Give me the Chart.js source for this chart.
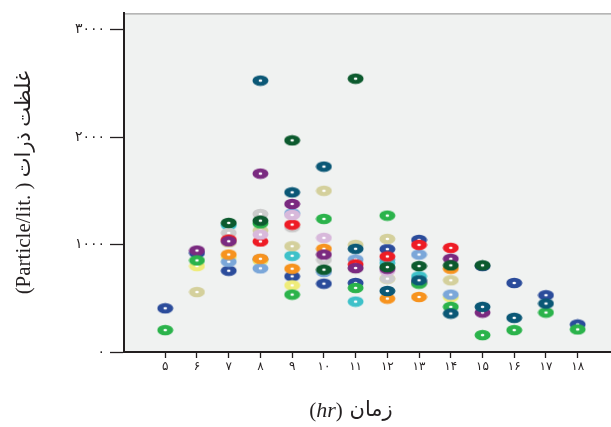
<!DOCTYPE html>
<html>
<head>
<meta charset="utf-8">
<script src="https://cdn.jsdelivr.net/npm/chart.js@4/dist/chart.umd.min.js"></script>
<style>
html,body{margin:0;padding:0;background:#fff;}
canvas{display:block;}
</style>
</head>
<body>
<canvas id="c" width="611" height="427" style="width:611px;height:427px"></canvas>
<script>
// ---- data ----
const hours = [5,6,7,8,9,10,11,12,13,14,15,16,17,18];
const xTickLabels = ['۵','۶','۷','۸','۹','۱۰','۱۱','۱۲','۱۳','۱۴','۱۵','۱۶','۱۷','۱۸'];
const yTickValues = [0,1000,2000,3000];
const yTickLabels = ['۰','۱۰۰۰','۲۰۰۰','۳۰۰۰'];
const yTitle = '(Particle/lit. ) غلظت ذرات';
const xTitleParts = ['(', 'hr', ')', ' زمان'];

const darkGreen = [null,null,1201,1222,1969,766,2543,790,799,806,806,null,null,null];
const darkTeal  = [null,null,null,2525,1485,1725,960,568,667,358,420,318,451,null];
const green     = [204,852,null,1197,534,1238,596,1269,636,420,157,204,367,210];
const purple    = [null,944,1030,1660,1377,907,781,775,650,867,367,null,null,null];
const lavender  = [null,null,null,1093,1275,1062,null,753,null,null,null,null,null,null];
const red       = [null,null,1046,1028,1185,null,815,889,997,969,null,null,null,null];
const gray      = [null,null,1108,1284,1160,858,775,682,null,null,null,null,null,null];
const khaki     = [null,558,1020,1130,984,1500,997,1052,null,667,null,null,null,null];
const cyan      = [null,null,1180,null,895,null,469,827,704,null,null,null,null,null];
const orange    = [null,null,907,867,775,960,null,497,512,775,null,null,null,null];
const lightBlue = [null,null,840,778,1290,744,861,858,907,534,null,null,null,null];
const yellow    = [null,799,880,850,620,null,null,682,null,510,null,null,null,null];
const darkBlue  = [407,920,756,860,704,636,642,957,1043,null,800,642,528,256];

const seriesList = [
  ['darkGreen', darkGreen, '#0c5a2e'],
  ['darkTeal', darkTeal, '#0b5876'],
  ['green', green, '#2bb34b'],
  ['purple', purple, '#7a2a80'],
  ['lavender', lavender, '#d8b9db'],
  ['red', red, '#ee1c25'],
  ['gray', gray, '#cccccc'],
  ['khaki', khaki, '#d4d09c'],
  ['cyan', cyan, '#3ec1c9'],
  ['orange', orange, '#f7931e'],
  ['lightBlue', lightBlue, '#7ba7d9'],
  ['yellow', yellow, '#efec7a'],
  ['darkBlue', darkBlue, '#2b4c9b']
];

// ---- marker images (donut ellipses) ----
function donut(color){
  const c = document.createElement('canvas');
  c.width = 17; c.height = 12;
  const g = c.getContext('2d');
  g.fillStyle = color;
  g.beginPath(); g.ellipse(8.5, 6, 8, 5.3, 0, 0, Math.PI*2); g.fill();
  g.fillStyle = '#ffffff';
  g.beginPath(); g.ellipse(8.5, 6, 1.8, 1.3, 0, 0, Math.PI*2); g.fill();
  return c;
}

const datasets = seriesList.map(([name, vals, color]) => ({
  label: name,
  data: hours.map((h, i) => ({x: h, y: vals[i]})).filter(p => p.y !== null),
  pointStyle: donut(color),
  backgroundColor: color,
  borderColor: color,
  showLine: false
}));

const bgPlugin = {
  id: 'bg',
  beforeDraw(chart){
    const {ctx, chartArea:a} = chart;
    ctx.save();
    ctx.fillStyle = '#f0f2f1';
    ctx.fillRect(a.left, a.top, a.right - a.left, a.bottom - a.top);
    ctx.strokeStyle = '#8c8c8c';
    ctx.lineWidth = 1;
    ctx.beginPath(); ctx.moveTo(a.left, a.top + 0.5); ctx.lineTo(a.right, a.top + 0.5); ctx.stroke();
    ctx.restore();
  },
  afterDraw(chart){
    const ctx = chart.ctx;
    ctx.save();
    ctx.fillStyle = '#231f20';
    ctx.textBaseline = 'middle';
    const fonts = ['21px "Liberation Serif"', 'italic 22px "Liberation Serif"', '21px "Liberation Serif"', '21px "DejaVu Sans", "Liberation Serif"'];
    let widths = xTitleParts.map((t, i) => { ctx.font = fonts[i]; return ctx.measureText(t).width; });
    const total = widths.reduce((s, w) => s + w, 0);
    let x = 351 - total / 2;
    const y = 411;
    xTitleParts.forEach((t, i) => {
      ctx.font = fonts[i];
      ctx.textAlign = 'left';
      ctx.fillText(t, x, y);
      x += widths[i];
    });
    ctx.restore();
  }
};

new Chart(document.getElementById('c'), {
  type: 'scatter',
  data: { datasets },
  options: {
    responsive: false,
    animation: false,
    layout: { autoPadding: false, padding: { top: 12, right: 0, left: 0, bottom: 0 } },
    plugins: { legend: { display: false }, tooltip: { enabled: false } },
    elements: { point: { radius: 8 } },
    scales: {
      x: {
        type: 'linear',
        min: 3.7, max: 19.05,
        afterBuildTicks(s){ s.ticks = hours.map(v => ({value: v})); },
        afterFit(s){ s.height = 75; },
        ticks: {
          autoSkip: false, maxRotation: 0,
          padding: 2,
          color: '#231f20',
          font: { family: '"DejaVu Sans"', size: 12 },
          callback: (v) => xTickLabels[hours.indexOf(v)]
        },
        grid: { drawOnChartArea: false, drawTicks: true, tickLength: 6, tickColor: '#231f20', tickWidth: 1.3 },
        border: { display: true, color: '#231f20', width: 2 }
      },
      y: {
        min: 0, max: 3150,
        afterBuildTicks(s){ s.ticks = yTickValues.map(v => ({value: v})); },
        afterFit(s){ s.width = 124; },
        ticks: {
          padding: 5,
          color: '#231f20',
          font: { family: '"DejaVu Sans"', size: 14 },
          callback: (v) => yTickLabels[yTickValues.indexOf(v)]
        },
        grid: { drawOnChartArea: false, drawTicks: true, tickLength: 14, tickColor: '#231f20', tickWidth: 1.3 },
        border: { display: true, color: '#231f20', width: 2 },
        title: {
          display: true,
          text: yTitle,
          color: '#231f20',
          font: { family: '"Liberation Serif", "DejaVu Sans"', size: 21 },
          padding: { top: 12, bottom: 0 }
        }
      }
    }
  },
  plugins: [bgPlugin]
});
</script>
</body>
</html>
